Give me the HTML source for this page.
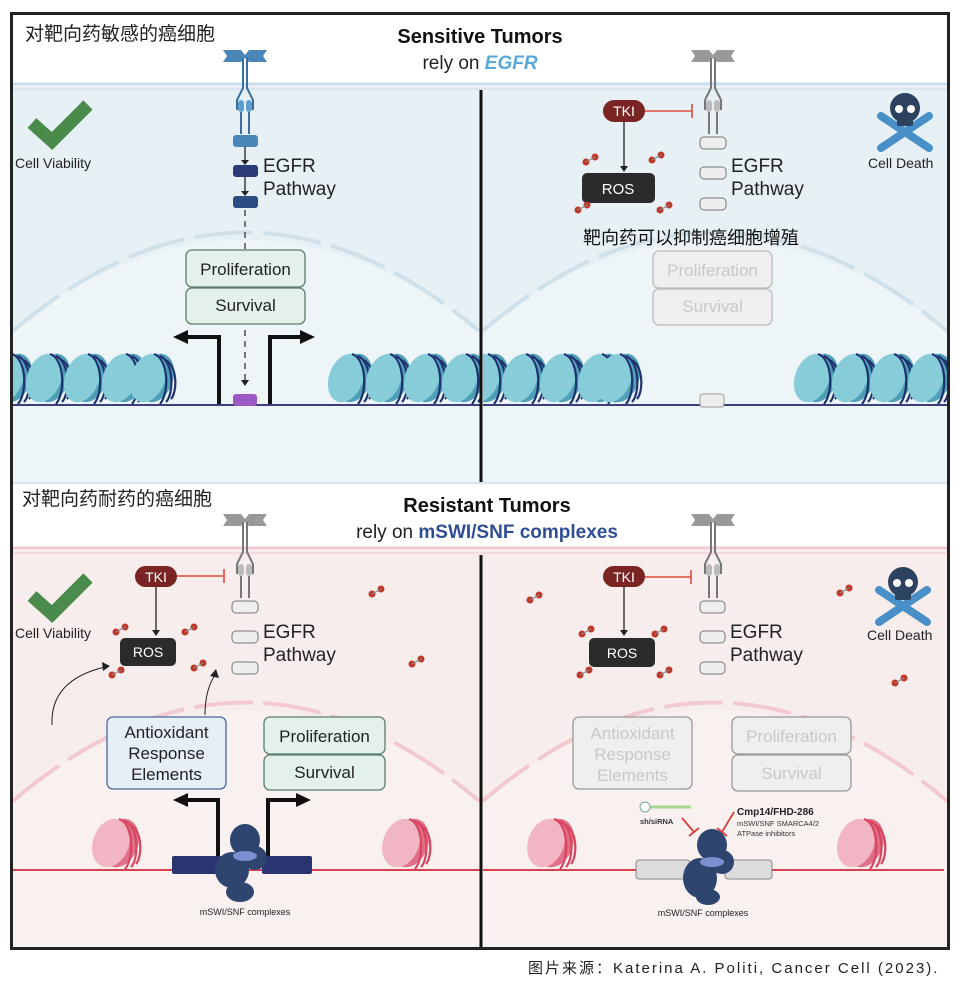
<!DOCTYPE html>
<html><head><meta charset="utf-8"><style>
html,body{margin:0;padding:0;background:#fff;width:960px;height:983px;overflow:hidden}
svg{display:block}
text{font-family:"Liberation Sans","Noto Sans CJK SC",sans-serif}
</style></head><body>
<svg width="960" height="983" viewBox="0 0 960 983" xmlns="http://www.w3.org/2000/svg">
<defs>
<clipPath id="cTL"><rect x="12" y="86" width="468" height="396"/></clipPath>
<clipPath id="cTR"><rect x="483" y="86" width="465" height="396"/></clipPath>
<g id="nucB">
<ellipse cx="4" cy="0" rx="17" ry="25" fill="#4f9fb6" transform="rotate(20 4 0)"/>
<ellipse cx="-4" cy="0" rx="17" ry="25" fill="#86cdd9" transform="rotate(20 -4 0)"/>
<path d="M2,-24 C16,-20 18,14 8,26" stroke="#1f3270" stroke-width="2.2" fill="none"/>
<path d="M8,-22 C22,-16 22,16 14,24" stroke="#1f3270" stroke-width="2.2" fill="none"/>
<path d="M14,-18 C26,-10 25,14 19,21" stroke="#1f3270" stroke-width="2.2" fill="none"/>
</g>
<g id="nucP">
<ellipse cx="5" cy="0" rx="18" ry="25" fill="#e0708a" transform="rotate(20 5 0)"/>
<ellipse cx="-4" cy="0" rx="18" ry="25" fill="#f2b5c3" transform="rotate(20 -4 0)"/>
<path d="M4,-24 C18,-20 20,14 10,26" stroke="#d8455f" stroke-width="2.2" fill="none"/>
<path d="M10,-22 C24,-16 24,16 16,24" stroke="#d8455f" stroke-width="2.2" fill="none"/>
<path d="M16,-18 C28,-10 27,14 21,21" stroke="#d8455f" stroke-width="2.2" fill="none"/>
</g>
<g id="recB">
<path d="M-22,-8 h18 l4,5 l4,-5 h18 l-4,6 l4,6 h-18 l-4,-4 l-4,4 h-18 l4,-6z" fill="#4a86b8"/>
<path d="M-2,0 v30 l-6,12 v10 M2,0 v30 l6,12 v10" stroke="#3b6fa3" stroke-width="2" fill="none"/>
<rect x="-7" y="42" width="6" height="12" rx="3" fill="#5d9fcf"/><rect x="1" y="42" width="6" height="12" rx="3" fill="#5d9fcf"/>
<path d="M-4,54 v22 M4,54 v22" stroke="#3b6fa3" stroke-width="2"/>
</g>
<g id="recG">
<path d="M-22,-8 h18 l4,5 l4,-5 h18 l-4,6 l4,6 h-18 l-4,-4 l-4,4 h-18 l4,-6z" fill="#999"/>
<path d="M-2,0 v30 l-6,12 v10 M2,0 v30 l6,12 v10" stroke="#777" stroke-width="2" fill="none"/>
<rect x="-7" y="42" width="6" height="12" rx="3" fill="#bbb"/><rect x="1" y="42" width="6" height="12" rx="3" fill="#bbb"/>
<path d="M-4,54 v22 M4,54 v22" stroke="#777" stroke-width="2"/>
</g>
<g id="skull">
<path d="M-24,8 L24,40 M24,8 L-24,40" stroke="#4a90c8" stroke-width="8" stroke-linecap="round"/>
<circle cx="0" cy="0" r="15" fill="#2c4360"/><rect x="-8" y="8" width="16" height="10" rx="2" fill="#2c4360"/>
<circle cx="-6" cy="1" r="4" fill="#fff"/><circle cx="6" cy="1" r="4" fill="#fff"/>
</g>
<g id="mol"><circle cx="0" cy="0" r="3.5" fill="#c0392b"/><circle cx="9" cy="-5" r="3.5" fill="#c0392b"/><path d="M0,0 L9,-5" stroke="#888" stroke-width="1.2"/></g>
<g id="check"><path d="M0,18 L20,36 L56,0" stroke="#4a8a4a" stroke-width="13" fill="none"/></g>
</defs>

<rect x="10" y="12" width="940" height="938" fill="#fff"/>
<rect x="10" y="86" width="940" height="397" fill="#e7f1f5"/>
<path d="M10,330 Q245,150 480,330 V482 H10Z" fill="#edf5f8"/>
<path d="M481,330 Q713,150 948,330 V482 H481Z" fill="#edf5f8"/>
<line x1="10" y1="84" x2="950" y2="84" stroke="#c9dcee" stroke-width="3"/>
<line x1="10" y1="89" x2="950" y2="89" stroke="#d9e6f2" stroke-width="2"/>
<rect x="10" y="550" width="940" height="400" fill="#f8eded"/>
<path d="M10,800 Q245,620 480,800 V950 H10Z" fill="#f9f0f0"/>
<path d="M481,800 Q713,620 948,800 V950 H481Z" fill="#f9f0f0"/>
<line x1="10" y1="548" x2="950" y2="548" stroke="#f2c9cf" stroke-width="3"/>
<line x1="10" y1="553" x2="950" y2="553" stroke="#f5d9dc" stroke-width="2"/>
<line x1="10" y1="483" x2="950" y2="483" stroke="#d9e6f2" stroke-width="2"/>

<g fill="none" stroke-width="4" stroke-dasharray="55,14" stroke-linecap="round">
<path d="M14,330 Q245,135 478,330" stroke="#cfe0ea"/>
<path d="M484,330 Q713,135 946,330" stroke="#cfe0ea"/>
<path d="M14,800 Q245,605 478,800" stroke="#f1c9cf"/>
<path d="M484,800 Q713,605 946,800" stroke="#f1c9cf"/>
</g>

<text x="25" y="40" font-size="19" fill="#222">对靶向药敏感的癌细胞</text>
<text x="480" y="43" font-size="20" font-weight="bold" text-anchor="middle" fill="#111">Sensitive Tumors</text>
<text x="480" y="69" font-size="19" text-anchor="middle" fill="#222">rely on <tspan font-weight="bold" font-style="italic" fill="#5aa8da">EGFR</tspan></text>
<text x="22" y="505" font-size="19" fill="#222">对靶向药耐药的癌细胞</text>
<text x="487" y="512" font-size="20" font-weight="bold" text-anchor="middle" fill="#111">Resistant Tumors</text>
<text x="487" y="538" font-size="19" text-anchor="middle" fill="#222">rely on <tspan font-weight="bold" fill="#2f4e93">mSWI/SNF complexes</tspan></text>

<!-- TOP LEFT -->
<use href="#check" x="32" y="105"/>
<text x="15" y="168" font-size="14" fill="#222">Cell Viability</text>
<use href="#recB" x="245" y="58"/>
<rect x="233" y="135" width="25" height="12" rx="3" fill="#4a86b8"/>
<rect x="233" y="165" width="25" height="12" rx="3" fill="#2a3b78"/>
<rect x="233" y="196" width="25" height="12" rx="3" fill="#2b4d80"/>
<path d="M245,147 v14 M245,177 v15" stroke="#222" stroke-width="1.3"/>
<path d="M241,160 l4,5 l4,-5z M241,191 l4,5 l4,-5z" fill="#222"/>
<text x="263" y="172" font-size="19" fill="#222">EGFR</text>
<text x="263" y="195" font-size="19" fill="#222">Pathway</text>
<path d="M245,210 v40 M245,330 v52" stroke="#333" stroke-width="1.3" stroke-dasharray="6,5"/>
<path d="M241,380 l4,6 l4,-6z" fill="#222"/>
<rect x="186" y="250" width="119" height="37" rx="6" fill="#e3f1ea" stroke="#5c7c6c" stroke-width="1.3"/>
<rect x="186" y="288" width="119" height="36" rx="6" fill="#e3f1ea" stroke="#5c7c6c" stroke-width="1.3"/>
<text x="245.5" y="275" font-size="17" text-anchor="middle" fill="#222">Proliferation</text>
<text x="245.5" y="311" font-size="17" text-anchor="middle" fill="#222">Survival</text>
<path d="M219,405 V337 H186" stroke="#111" stroke-width="4" fill="none"/><path d="M188,330 L173,337 L188,344z" fill="#111"/>
<path d="M270,405 V337 H302" stroke="#111" stroke-width="4" fill="none"/><path d="M300,330 L315,337 L300,344z" fill="#111"/>
<line x1="10" y1="405" x2="480" y2="405" stroke="#3a3f7a" stroke-width="2"/>
<rect x="233" y="394" width="24" height="12" rx="3" fill="#9b59c4"/>
<g clip-path="url(#cTL)">
<use href="#nucB" x="10" y="378"/><use href="#nucB" x="48" y="378"/><use href="#nucB" x="86" y="378"/><use href="#nucB" x="124" y="378"/><use href="#nucB" x="152" y="378"/>
<use href="#nucB" x="350" y="378"/><use href="#nucB" x="388" y="378"/><use href="#nucB" x="426" y="378"/><use href="#nucB" x="464" y="378"/>
</g>

<!-- TOP RIGHT -->
<use href="#recG" x="713" y="58"/>
<rect x="603" y="100" width="42" height="22" rx="11" fill="#7b2424"/>
<text x="624" y="116" font-size="14" text-anchor="middle" fill="#fff">TKI</text>
<path d="M645,111 H692 M692,104 V118" stroke="#e04a3a" stroke-width="1.6"/>
<path d="M624,122 V168" stroke="#222" stroke-width="1.3"/><path d="M620,166 l4,6 l4,-6z" fill="#222"/>
<rect x="582" y="173" width="73" height="30" rx="5" fill="#2b2b2b"/>
<text x="618" y="194" font-size="15" text-anchor="middle" fill="#fff">ROS</text>
<use href="#mol" x="586" y="162"/><use href="#mol" x="652" y="160"/><use href="#mol" x="578" y="210"/><use href="#mol" x="660" y="210"/>
<rect x="700" y="137" width="26" height="12" rx="4" fill="#eee" stroke="#777"/>
<rect x="700" y="167" width="26" height="12" rx="4" fill="#eee" stroke="#777"/>
<rect x="700" y="198" width="26" height="12" rx="4" fill="#eee" stroke="#777"/>
<text x="731" y="172" font-size="19" fill="#222">EGFR</text>
<text x="731" y="195" font-size="19" fill="#222">Pathway</text>
<use href="#skull" x="905" y="108"/>
<text x="868" y="168" font-size="14" fill="#222">Cell Death</text>
<text x="583" y="244" font-size="18" fill="#111">靶向药可以抑制癌细胞增殖</text>
<rect x="653" y="251" width="119" height="37" rx="6" fill="#efefef" stroke="#bbb" stroke-width="1.3"/>
<rect x="653" y="289" width="119" height="36" rx="6" fill="#efefef" stroke="#bbb" stroke-width="1.3"/>
<text x="712.5" y="276" font-size="17" text-anchor="middle" fill="#c8c8c8">Proliferation</text>
<text x="712.5" y="312" font-size="17" text-anchor="middle" fill="#c8c8c8">Survival</text>
<line x1="483" y1="405" x2="948" y2="405" stroke="#3a3f7a" stroke-width="2"/>
<rect x="700" y="394" width="24" height="13" rx="3" fill="#eee" stroke="#999"/>
<g clip-path="url(#cTR)">
<use href="#nucB" x="486" y="378"/><use href="#nucB" x="524" y="378"/><use href="#nucB" x="562" y="378"/><use href="#nucB" x="600" y="378"/><use href="#nucB" x="618" y="378"/>
<use href="#nucB" x="816" y="378"/><use href="#nucB" x="854" y="378"/><use href="#nucB" x="892" y="378"/><use href="#nucB" x="930" y="378"/>
</g>

<!-- BOTTOM LEFT -->
<use href="#check" x="32" y="578"/>
<text x="15" y="638" font-size="14" fill="#222">Cell Viability</text>
<use href="#recG" x="245" y="522"/>
<rect x="135" y="566" width="42" height="21" rx="10.5" fill="#7b2424"/>
<text x="156" y="582" font-size="14" text-anchor="middle" fill="#fff">TKI</text>
<path d="M177,576 H224 M224,569 V583" stroke="#e04a3a" stroke-width="1.6"/>
<path d="M156,587 V632" stroke="#222" stroke-width="1.3"/><path d="M152,630 l4,6 l4,-6z" fill="#222"/>
<rect x="120" y="638" width="56" height="28" rx="5" fill="#2b2b2b"/>
<text x="148" y="657" font-size="14" text-anchor="middle" fill="#fff">ROS</text>
<use href="#mol" x="116" y="632"/><use href="#mol" x="185" y="632"/><use href="#mol" x="112" y="675"/><use href="#mol" x="194" y="668"/><use href="#mol" x="372" y="594"/><use href="#mol" x="412" y="664"/>
<rect x="232" y="601" width="26" height="12" rx="4" fill="#eee" stroke="#777"/>
<rect x="232" y="631" width="26" height="12" rx="4" fill="#eee" stroke="#777"/>
<rect x="232" y="662" width="26" height="12" rx="4" fill="#eee" stroke="#777"/>
<text x="263" y="638" font-size="19" fill="#222">EGFR</text>
<text x="263" y="661" font-size="19" fill="#222">Pathway</text>
<path d="M52,725 Q50,680 105,667" stroke="#222" stroke-width="1" fill="none"/><path d="M102,662 l8,4 l-7,5z" fill="#222"/>
<path d="M205,715 Q205,690 215,675" stroke="#222" stroke-width="1" fill="none"/><path d="M210,676 l6,-7 l3,9z" fill="#222"/>
<rect x="107" y="717" width="119" height="72" rx="6" fill="#e6eef8" stroke="#4b6a9a" stroke-width="1.3"/>
<text x="166.5" y="738" font-size="17" text-anchor="middle" fill="#222">Antioxidant</text>
<text x="166.5" y="759" font-size="17" text-anchor="middle" fill="#222">Response</text>
<text x="166.5" y="780" font-size="17" text-anchor="middle" fill="#222">Elements</text>
<rect x="264" y="717" width="121" height="37" rx="6" fill="#e3f1ea" stroke="#5c7c6c" stroke-width="1.3"/>
<rect x="264" y="755" width="121" height="35" rx="6" fill="#e3f1ea" stroke="#5c7c6c" stroke-width="1.3"/>
<text x="324.5" y="742" font-size="17" text-anchor="middle" fill="#222">Proliferation</text>
<text x="324.5" y="778" font-size="17" text-anchor="middle" fill="#222">Survival</text>
<path d="M218,860 V800 H186" stroke="#111" stroke-width="4" fill="none"/><path d="M188,793 L173,800 L188,807z" fill="#111"/>
<path d="M268,860 V800 H298" stroke="#111" stroke-width="4" fill="none"/><path d="M296,793 L311,800 L296,807z" fill="#111"/>
<line x1="12" y1="870" x2="480" y2="870" stroke="#d84050" stroke-width="2"/>
<rect x="172" y="856" width="56" height="18" rx="2" fill="#2a3470"/>
<rect x="262" y="856" width="50" height="18" rx="2" fill="#2a3470"/>
<g fill="#2e4570"><ellipse cx="245" cy="840" rx="15" ry="16"/><ellipse cx="232" cy="870" rx="17" ry="18"/><ellipse cx="240" cy="892" rx="14" ry="10"/><ellipse cx="255" cy="858" rx="12" ry="12"/></g>
<ellipse cx="245" cy="856" rx="12" ry="5" fill="#7d8fd0"/>
<text x="245" y="915" font-size="9" text-anchor="middle" fill="#222">mSWI/SNF complexes</text>
<use href="#nucP" x="115" y="843"/><use href="#nucP" x="405" y="843"/>

<!-- BOTTOM RIGHT -->
<use href="#recG" x="713" y="522"/>
<rect x="603" y="566" width="42" height="21" rx="10.5" fill="#7b2424"/>
<text x="624" y="582" font-size="14" text-anchor="middle" fill="#fff">TKI</text>
<path d="M645,577 H691 M691,570 V584" stroke="#e04a3a" stroke-width="1.6"/>
<path d="M624,587 V632" stroke="#222" stroke-width="1.3"/><path d="M620,630 l4,6 l4,-6z" fill="#222"/>
<rect x="589" y="638" width="66" height="29" rx="5" fill="#2b2b2b"/>
<text x="622" y="658" font-size="14" text-anchor="middle" fill="#fff">ROS</text>
<use href="#mol" x="530" y="600"/><use href="#mol" x="582" y="634"/><use href="#mol" x="655" y="634"/><use href="#mol" x="580" y="675"/><use href="#mol" x="660" y="675"/><use href="#mol" x="840" y="593"/><use href="#mol" x="895" y="683"/>
<rect x="700" y="601" width="25" height="12" rx="4" fill="#eee" stroke="#777"/>
<rect x="700" y="631" width="25" height="12" rx="4" fill="#eee" stroke="#777"/>
<rect x="700" y="662" width="25" height="12" rx="4" fill="#eee" stroke="#777"/>
<text x="730" y="638" font-size="19" fill="#222">EGFR</text>
<text x="730" y="661" font-size="19" fill="#222">Pathway</text>
<use href="#skull" x="903" y="582"/>
<text x="867" y="640" font-size="14" fill="#222">Cell Death</text>
<rect x="573" y="717" width="119" height="72" rx="6" fill="#efefef" stroke="#999" stroke-width="1.3"/>
<text x="632.5" y="739" font-size="17" text-anchor="middle" fill="#c8c8c8">Antioxidant</text>
<text x="632.5" y="760" font-size="17" text-anchor="middle" fill="#c8c8c8">Response</text>
<text x="632.5" y="781" font-size="17" text-anchor="middle" fill="#c8c8c8">Elements</text>
<rect x="732" y="717" width="119" height="37" rx="6" fill="#efefef" stroke="#999" stroke-width="1.3"/>
<rect x="732" y="755" width="119" height="36" rx="6" fill="#efefef" stroke="#999" stroke-width="1.3"/>
<text x="791.5" y="742" font-size="17" text-anchor="middle" fill="#c8c8c8">Proliferation</text>
<text x="791.5" y="779" font-size="17" text-anchor="middle" fill="#c8c8c8">Survival</text>
<path d="M641,807 h50" stroke="#a8d890" stroke-width="3"/><circle cx="645" cy="807" r="5" fill="#fff" stroke="#7a9" stroke-width="1"/>
<text x="640" y="824" font-size="7.5" font-weight="bold" fill="#333">sh/siRNA</text>
<path d="M682,818 L694,832 M689,836 L699,828" stroke="#d84040" stroke-width="1.8"/>
<path d="M734,812 L722,832 M717,828 L727,836" stroke="#d84040" stroke-width="1.8"/>
<text x="737" y="815" font-size="10" font-weight="bold" fill="#222">Cmp14/FHD-286</text>
<text x="737" y="826" font-size="7.5" fill="#333">mSWI/SNF SMARCA4/2</text>
<text x="737" y="836" font-size="7.5" fill="#333">ATPase inhibitors</text>
<line x1="483" y1="870" x2="944" y2="870" stroke="#d84050" stroke-width="2"/>
<rect x="636" y="860" width="54" height="19" rx="3" fill="#dcdcdc" stroke="#888"/>
<rect x="725" y="860" width="47" height="19" rx="3" fill="#dcdcdc" stroke="#888"/>
<g fill="#2e4570"><ellipse cx="712" cy="845" rx="15" ry="16"/><ellipse cx="700" cy="878" rx="17" ry="20"/><ellipse cx="708" cy="897" rx="12" ry="8"/><ellipse cx="722" cy="862" rx="12" ry="12"/></g>
<ellipse cx="712" cy="862" rx="12" ry="5" fill="#7d8fd0"/>
<text x="703" y="916" font-size="9" text-anchor="middle" fill="#222">mSWI/SNF complexes</text>
<use href="#nucP" x="550" y="843"/><use href="#nucP" x="860" y="843"/>

<!-- dividers & frame on top -->
<line x1="481" y1="90" x2="481" y2="482" stroke="#111" stroke-width="3"/>
<line x1="481" y1="555" x2="481" y2="950" stroke="#111" stroke-width="3"/>
<rect x="11.5" y="13.5" width="937" height="935" fill="none" stroke="#222" stroke-width="3"/>

<text x="528" y="973" font-size="15" fill="#222" letter-spacing="2">图片来源：Katerina A. Politi, Cancer Cell (2023).</text>
</svg>
</body></html>
